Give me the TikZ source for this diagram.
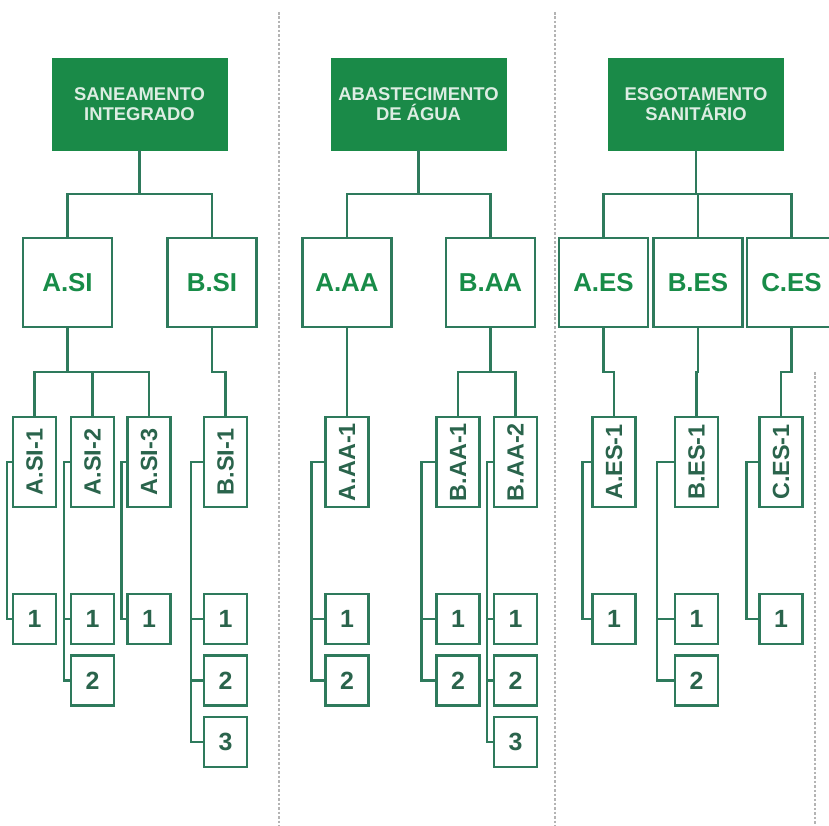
\documentclass[tikz,border=0pt]{standalone}
\usepackage{fontspec}
\setsansfont{Liberation Sans}
\usetikzlibrary{positioning}

\definecolor{topgreen}{RGB}{26,138,72}
\definecolor{linegreen}{RGB}{46,122,92}
\definecolor{midgreen}{RGB}{24,140,72}
\definecolor{leafgreen}{RGB}{42,100,76}
\definecolor{sepgray}{RGB}{180,180,180}

\begin{document}
\begin{tikzpicture}[
  x=1bp, y=-1bp,
  every node/.style={font=\sffamily\bfseries},
  topbox/.style={rectangle, fill=topgreen, draw=topgreen, text=white!85!topgreen,
                 minimum width=175bp, minimum height=92bp, align=center,
                 font=\sffamily\bfseries\fontsize{18.5}{20}\selectfont},
  midbox/.style={rectangle, draw=linegreen, line width=2.2bp, fill=white,
                 minimum width=89bp, minimum height=89bp, text=midgreen,
                 font=\sffamily\bfseries\fontsize{26}{28}\selectfont},
  subbox/.style={rectangle, draw=linegreen, line width=2.2bp, fill=white,
                 minimum width=43bp, minimum height=90bp, inner sep=0pt, text=leafgreen,
                 font=\sffamily\bfseries\fontsize{23.5}{26}\selectfont},
  leaf/.style={rectangle, draw=linegreen, line width=2.2bp, fill=white,
               minimum width=43bp, minimum height=50bp, inner sep=0pt, text=leafgreen,
               font=\sffamily\bfseries\fontsize{25}{26}\selectfont},
  bus/.style={draw=linegreen, line width=2.2bp, to path={-- ++(0,44) -| (\tikztotarget)}},
  twig/.style={draw=linegreen, line width=2.2bp, to path={-- ++(-#1,0) |- (\tikztotarget)}},
  divider/.style={draw=sepgray, line width=2.5bp, dotted}
]

\useasboundingbox (0,0) rectangle (829,826);
\fill[white] (0,0) rectangle (829,826);
\clip (0,0) rectangle (829,826);

% separators
\draw[divider] (279,12) -- (279,826);
\draw[divider] (555,12) -- (555,826);
\draw[divider] (815,372) -- (815,826);

% top level
\node[topbox] (SI) at (139.5,104) {SANEAMENTO\\INTEGRADO};
\node[topbox] (AA) at (418.5,104) {ABASTECIMENTO\\DE ÁGUA};
\node[topbox] (ES) at (696,104)   {ESGOTAMENTO\\SANITÁRIO};

% second level
\node[midbox] (ASI) at (67.5,282.5)  {A.SI};
\node[midbox] (BSI) at (212,282.5)   {B.SI};
\node[midbox] (AAA) at (347,282.5)   {A.AA};
\node[midbox] (BAA) at (490.5,282.5) {B.AA};
\node[midbox] (AES) at (603.5,282.5) {A.ES};
\node[midbox] (BES) at (698,282.5)   {B.ES};
\node[midbox] (CES) at (791.5,282.5) {C.ES};

% third level
\node[subbox] (ASI1) at (34.5,462)  {\rotatebox{90}{A.SI-1}};
\node[subbox] (ASI2) at (92.5,462)  {\rotatebox{90}{A.SI-2}};
\node[subbox] (ASI3) at (149,462)   {\rotatebox{90}{A.SI-3}};
\node[subbox] (BSI1) at (225.5,462) {\rotatebox{90}{B.SI-1}};
\node[subbox] (AAA1) at (347,462)   {\rotatebox{90}{A.AA-1}};
\node[subbox] (BAA1) at (458,462)   {\rotatebox{90}{B.AA-1}};
\node[subbox] (BAA2) at (515.5,462) {\rotatebox{90}{B.AA-2}};
\node[subbox] (AES1) at (614,462)   {\rotatebox{90}{A.ES-1}};
\node[subbox] (BES1) at (696.5,462) {\rotatebox{90}{B.ES-1}};
\node[subbox] (CES1) at (781,462)   {\rotatebox{90}{C.ES-1}};

% leaves
\node[leaf, below=85bp of ASI1] (ASI1a) {1};
\node[leaf, below=85bp of ASI2] (ASI2a) {1};
\node[leaf, below=9bp of ASI2a] (ASI2b) {2};
\node[leaf, below=85bp of ASI3] (ASI3a) {1};
\node[leaf, below=85bp of BSI1] (BSI1a) {1};
\node[leaf, below=9bp of BSI1a] (BSI1b) {2};
\node[leaf, below=9bp of BSI1b] (BSI1c) {3};
\node[leaf, below=85bp of AAA1] (AAA1a) {1};
\node[leaf, below=9bp of AAA1a] (AAA1b) {2};
\node[leaf, below=85bp of BAA1] (BAA1a) {1};
\node[leaf, below=9bp of BAA1a] (BAA1b) {2};
\node[leaf, below=85bp of BAA2] (BAA2a) {1};
\node[leaf, below=9bp of BAA2a] (BAA2b) {2};
\node[leaf, below=9bp of BAA2b] (BAA2c) {3};
\node[leaf, below=85bp of AES1] (AES1a) {1};
\node[leaf, below=85bp of BES1] (BES1a) {1};
\node[leaf, below=9bp of BES1a] (BES1b) {2};
\node[leaf, below=85bp of CES1] (CES1a) {1};

% top to second level
\draw[bus] (SI.south) to (ASI.north);
\draw[bus] (SI.south) to (BSI.north);
\draw[bus] (AA.south) to (AAA.north);
\draw[bus] (AA.south) to (BAA.north);
\draw[bus] (ES.south) to (AES.north);
\draw[bus] (ES.south) to (BES.north);
\draw[bus] (ES.south) to (CES.north);

% second to third level
\draw[bus] (ASI.south) to (ASI1.north);
\draw[bus] (ASI.south) to (ASI2.north);
\draw[bus] (ASI.south) to (ASI3.north);
\draw[bus] (BSI.south) to (BSI1.north);
\draw[bus] (AAA.south) to (AAA1.north);
\draw[bus] (BAA.south) to (BAA1.north);
\draw[bus] (BAA.south) to (BAA2.north);
\draw[bus] (AES.south) to (AES1.north);
\draw[bus] (BES.south) to (BES1.north);
\draw[bus] (CES.south) to (CES1.north);

% third level to leaves
\draw[twig=5]  (ASI1.west) to (ASI1a.west);
\draw[twig=6]  (ASI2.west) to (ASI2a.west);
\draw[twig=6]  (ASI2.west) to (ASI2b.west);
\draw[twig=5]  (ASI3.west) to (ASI3a.west);
\draw[twig=12] (BSI1.west) to (BSI1a.west);
\draw[twig=12] (BSI1.west) to (BSI1b.west);
\draw[twig=12] (BSI1.west) to (BSI1c.west);
\draw[twig=13] (AAA1.west) to (AAA1a.west);
\draw[twig=13] (AAA1.west) to (AAA1b.west);
\draw[twig=14] (BAA1.west) to (BAA1a.west);
\draw[twig=14] (BAA1.west) to (BAA1b.west);
\draw[twig=6]  (BAA2.west) to (BAA2a.west);
\draw[twig=6]  (BAA2.west) to (BAA2b.west);
\draw[twig=6]  (BAA2.west) to (BAA2c.west);
\draw[twig=9]  (AES1.west) to (AES1a.west);
\draw[twig=17] (BES1.west) to (BES1a.west);
\draw[twig=17] (BES1.west) to (BES1b.west);
\draw[twig=12] (CES1.west) to (CES1a.west);

\end{tikzpicture}
\end{document}
